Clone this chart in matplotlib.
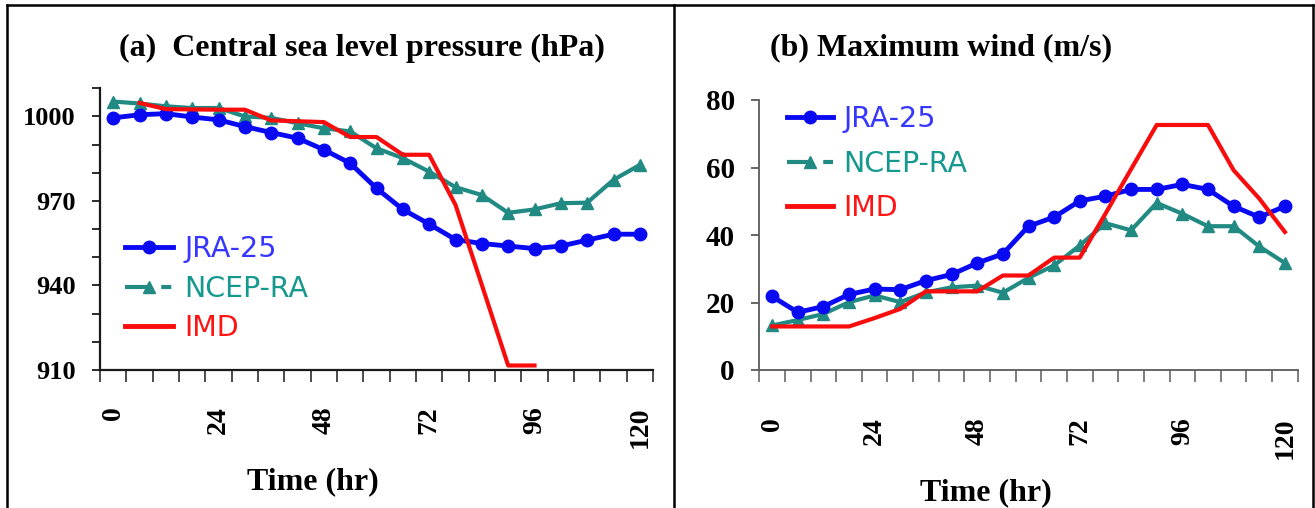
import numpy as np
import matplotlib
matplotlib.use("Agg")
import matplotlib.pyplot as plt
from matplotlib.lines import Line2D

# ---------------- data ----------------
hours = [0, 6, 12, 18, 24, 30, 36, 42, 48, 54, 60, 66, 72, 78, 84, 90, 96, 102, 108, 114, 120]
hour_labels = ["0", "24", "48", "72", "96", "120"]

nan = np.nan
jra_slp = [999.5, 1000.6, 1001.0, 999.8, 998.8, 996.4, 994.3, 992.3, 988.2, 983.4, 974.5,
           967.0, 961.8, 956.3, 954.9, 954.0, 953.1, 954.0, 956.1, 958.2, 958.2]
ncep_slp = [1005.3, 1004.6, 1003.6, 1003.0, 1003.0, 1000.0, 999.5, 997.6, 995.8, 994.7, 988.7,
            985.2, 980.4, 974.9, 972.1, 965.8, 967.0, 969.2, 969.4, 977.5, 982.8]
imd_slp = [nan, 1004.8, 1002.6, 1002.5, 1002.4, 1002.4, 998.6, 998.3, 998.0, 992.7, 992.7,
           986.4, 986.4, 968.6, 940.2, 911.6, 911.6, nan, nan, nan, nan]

jra_wind = [21.8, 17.1, 18.8, 22.4, 24.0, 23.8, 26.5, 28.3, 31.7, 34.4, 42.6,
            45.3, 50.1, 51.5, 53.5, 53.5, 55.0, 53.5, 48.5, 45.3, 48.5]
ncep_wind = [13.2, 14.8, 16.6, 20.1, 22.1, 20.1, 23.0, 24.5, 25.0, 22.9, 27.3,
             31.0, 36.9, 43.5, 41.4, 49.5, 46.3, 42.6, 42.6, 36.6, 31.7]
imd_wind = [12.9, 12.9, 12.9, 12.9, 15.4, 18.1, 23.3, 23.3, 23.3, 28.0, 28.0,
            33.3, 33.3, 46.3, 59.5, 72.6, 72.6, 72.6, 59.2, 50.8, 40.9]

series_names = ["JRA-25", "NCEP-RA", "IMD"]
line_colors = ["#0a0af2", "#218a83", "#f80c0c"]
text_colors = ["#3636ff", "#15998f", "#ff1414"]

slp_ticks = [910, 920, 930, 940, 950, 960, 970, 980, 990, 1000, 1010]
slp_labels = ["910", "", "", "940", "", "", "970", "", "", "1000", ""]
wind_ticks = [0, 20, 40, 60, 80]

# ---------------- figure ----------------
W, H = 1315, 508
fig = plt.figure(figsize=(W / 100, H / 100), dpi=100)

serif = "Liberation Serif"
sans = "DejaVu Sans"
LEG_FS = 20.5


def fx(px):
    return px / W


def fy(py):
    return 1 - py / H


axa = fig.add_axes([fx(100), fy(370), fx(653) - fx(100), fy(88) - fy(370)])
axb = fig.add_axes([fx(759.3), fy(370), fx(1297.7) - fx(759.3), fy(100) - fy(370)])

idx = np.arange(len(hours))
label_pos = [hours.index(int(h)) for h in hour_labels]


def style_axis(ax, spine_color, spine_w, xpad, ylab_size):
    for s in ["top", "right"]:
        ax.spines[s].set_visible(False)
    for s in ["left", "bottom"]:
        ax.spines[s].set_color(spine_color)
        ax.spines[s].set_linewidth(spine_w)
    ax.set_xlim(-0.5, len(hours) - 0.5)
    ax.set_xticks(np.arange(-0.5, len(hours), 1.0))
    ax.set_xticklabels([])
    ax.set_xticks(label_pos, minor=True)
    ax.set_xticklabels(hour_labels, minor=True, rotation=90, fontfamily=serif,
                       fontweight="bold", fontsize=20)
    ax.tick_params(axis="x", which="major", direction="out", length=8.5,
                   width=1.1, color=spine_color)
    ax.tick_params(axis="x", which="minor", length=0, pad=xpad)
    ax.tick_params(axis="y", which="major", direction="out", length=5.5,
                   width=1.3, color=spine_color, pad=12.0)
    for t in ax.get_yticklabels():
        t.set_fontfamily(serif)
        t.set_fontweight("bold")
        t.set_fontsize(ylab_size)


# panel a
axa.plot(idx, jra_slp, color=line_colors[0], lw=3.5, marker="o", ms=9, zorder=3)
axa.plot(idx, ncep_slp, color=line_colors[1], lw=3.0, marker="^", ms=9, zorder=2)
axa.plot(idx, imd_slp, color=line_colors[2], lw=3.0, zorder=4)
axa.set_ylim(910, 1010.1)
axa.set_yticks(slp_ticks)
axa.set_yticklabels(slp_labels)
style_axis(axa, "#1a1a1a", 1.6, 26, 19)

# panel b
axb.plot(idx, jra_wind, color=line_colors[0], lw=3.5, marker="o", ms=9, zorder=3)
axb.plot(idx, ncep_wind, color=line_colors[1], lw=3.0, marker="^", ms=9, zorder=2)
axb.plot(idx, imd_wind, color=line_colors[2], lw=3.0, zorder=4)
axb.set_ylim(0, 80)
axb.set_yticks(wind_ticks)
axb.set_yticklabels([str(v) for v in wind_ticks])
style_axis(axb, "#5a5a5a", 1.3, 34, 21)


def proxies():
    return [
        Line2D([], [], color=line_colors[0], lw=3.5, marker="o", ms=9),
        Line2D([], [], color=line_colors[1], lw=3.0, marker="^", ms=9,
               linestyle=(0, (5.5, 3.2, 2.4, 20))),
        Line2D([], [], color=line_colors[2], lw=3.5),
    ]


for ax, anchor, hl, htp, ls in [(axa, (0.045, 0.478), 1.68, 0.42, 0.40),
                                 (axb, (0.0515, 0.980), 1.61, 0.36, 0.58)]:
    leg = ax.legend(proxies(), series_names, loc="upper left", bbox_to_anchor=anchor,
                    frameon=False, borderpad=0, borderaxespad=0, handlelength=hl,
                    handletextpad=htp, labelspacing=ls, numpoints=1,
                    prop={"family": sans, "size": LEG_FS})
    for t, c in zip(leg.get_texts(), text_colors):
        t.set_color(c)

# axis labels
for ax, (lx, ly) in [(axa, ((313 - 100) / 553, -(467 - 370) / 282)),
                     (axb, ((986 - 759.3) / 538.4, -(478 - 370) / 270))]:
    ax.set_xlabel("Time (hr)", fontfamily=serif, fontweight="bold", fontsize=23)
    ax.xaxis.set_label_coords(lx, ly)

# titles
fig.text(fx(361.5), fy(48), "(a)  Central sea level pressure (hPa)", ha="center",
         va="center", fontfamily=serif, fontweight="bold", fontsize=23)
fig.text(fx(941), fy(48), "(b) Maximum wind (m/s)", ha="center",
         va="center", fontfamily=serif, fontweight="bold", fontsize=23)

# panel frames
frame_kw = dict(color="black", lw=1.8, transform=fig.transFigure, clip_on=False)
fig.add_artist(Line2D([fx(7), fx(1313)], [fy(5), fy(5)], **frame_kw))
fig.add_artist(Line2D([fx(7), fx(7)], [fy(5), 0], **frame_kw))
fig.add_artist(Line2D([fx(674), fx(674)], [fy(5), 0], **frame_kw))
fig.add_artist(Line2D([fx(1313), fx(1313)], [fy(5), 0], **frame_kw))

fig.savefig("out.png", dpi=100)
